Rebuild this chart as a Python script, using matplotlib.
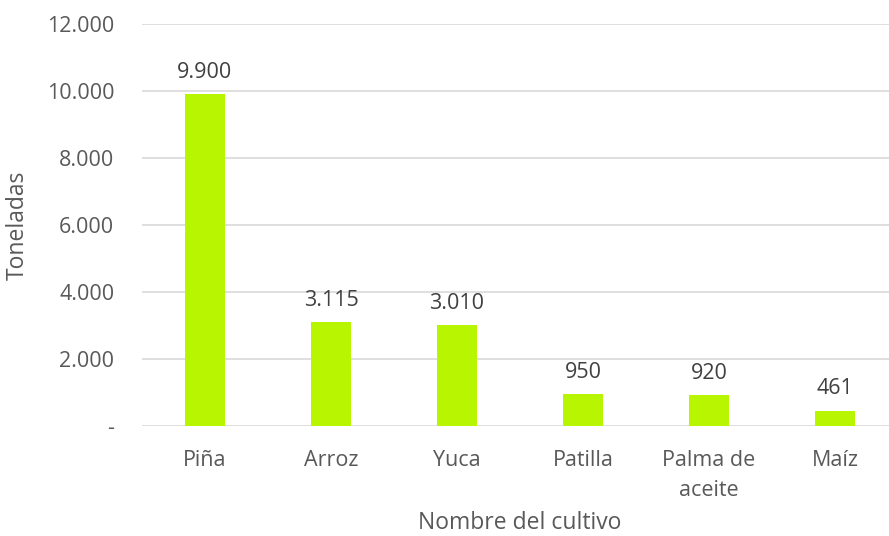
import matplotlib
matplotlib.use("Agg")
import matplotlib.pyplot as plt
from matplotlib.ticker import FuncFormatter

# Data
cultivos = ["Piña", "Arroz", "Yuca", "Patilla", "Palma de\naceite", "Maíz"]
toneladas = [9900, 3115, 3010, 950, 920, 461]
y_ticks = [0, 2000, 4000, 6000, 8000, 10000, 12000]

plt.rcParams['font.family'] = ['Open Sans', 'DejaVu Sans']

def miles(v, pos=None):
    if v == 0:
        return "-"
    return f"{int(v):,}".replace(",", ".")

fig = plt.figure(figsize=(8.89, 5.36), dpi=100)
ax = fig.add_axes([142/889, 110/536, 756/889, 402/536])

x = range(len(cultivos))
ax.bar(x, toneladas, width=0.317, color="#B8F500", zorder=3)

for i, v in enumerate(toneladas):
    ax.annotate(miles(v), (i, v), xytext=(0, 8), textcoords="offset points",
                ha="center", va="bottom", fontsize=15.5, color="#404040")

ax.set_xlim(-0.5, len(cultivos) - 0.5)
ax.set_ylim(0, 12000)
ax.set_yticks(y_ticks)
ax.yaxis.set_major_formatter(FuncFormatter(miles))
ax.set_xticks(list(x))
ax.set_xticklabels(cultivos, linespacing=1.6)

ax.grid(axis="y", color="#D9D9D9", linewidth=1.2, zorder=0)
for s in ["top", "right", "left", "bottom"]:
    ax.spines[s].set_visible(False)
ax.tick_params(axis="both", length=0, labelsize=15.5, colors="#595959")
ax.tick_params(axis="x", pad=17)
ax.tick_params(axis="y", pad=20)

fig.text(18/889, 1 - 225/536, "Toneladas", rotation=90, ha="center", va="center",
         fontsize=16.5, color="#595959")
fig.text(520/889, 1 - 523/536, "Nombre del cultivo", ha="center", va="center",
         fontsize=16.5, color="#595959")

fig.savefig("out.png", dpi=100)
